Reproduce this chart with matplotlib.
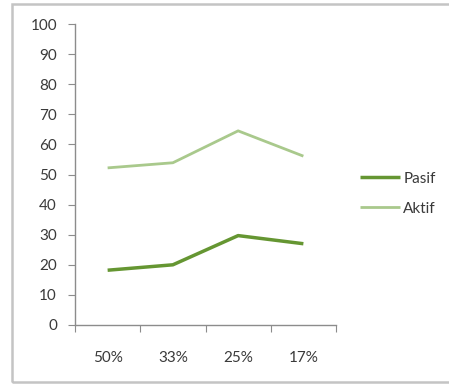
import matplotlib
matplotlib.use("Agg")
import matplotlib.pyplot as plt
from matplotlib.patches import Rectangle

categories = ["50%", "33%", "25%", "17%"]
pasif = [18.2, 20.0, 29.7, 27.0]
aktif = [52.2, 53.9, 64.5, 56.1]
y_ticks = [0, 10, 20, 30, 40, 50, 60, 70, 80, 90, 100]

plt.rcParams["font.family"] = ["Lato", "DejaVu Sans"]
text_color = "#3a3a3a"
axis_color = "#8c8c8c"

fig = plt.figure(figsize=(4.49, 3.86), dpi=100)
fig.patch.set_facecolor("white")

# outer chart frame
frame = Rectangle((12 / 449, 4 / 386), (460 - 12) / 449, (382 - 4) / 386,
                  transform=fig.transFigure, fill=False,
                  edgecolor="#c4c4c4", linewidth=1.8, clip_on=False)
fig.add_artist(frame)

ax = fig.add_axes([75 / 449, 1 - 325 / 386, (336 - 75) / 449, (325 - 24) / 386])

x = [i + 0.5 for i in range(len(categories))]
ax.plot(x, pasif, color="#659632", linewidth=2.5, label="Pasif",
        solid_capstyle="butt", solid_joinstyle="round")
ax.plot(x, aktif, color="#a9c98c", linewidth=2.0, label="Aktif",
        solid_capstyle="butt", solid_joinstyle="round")

ax.set_xlim(0, len(categories))
ax.set_ylim(0, 100)
ax.set_yticks(y_ticks)
ax.set_yticklabels([str(v) for v in y_ticks])

ax.set_xticks(range(len(categories) + 1))
ax.set_xticklabels([""] * (len(categories) + 1))
ax.set_xticks(x, minor=True)
ax.set_xticklabels(categories, minor=True)

for side in ("top", "right"):
    ax.spines[side].set_visible(False)
for side in ("left", "bottom"):
    ax.spines[side].set_color(axis_color)
    ax.spines[side].set_linewidth(1.0)

ax.tick_params(axis="y", which="major", direction="out", length=5,
               color=axis_color, labelcolor=text_color, labelsize=11, pad=8)
ax.tick_params(axis="x", which="major", direction="out", length=5,
               color=axis_color)
ax.tick_params(axis="x", which="minor", length=0, labelcolor=text_color,
               labelsize=11, pad=19)

leg = ax.legend(loc="upper left", bbox_to_anchor=(1.07, 0.53), frameon=False,
                handlelength=2.6, handletextpad=0.2, labelspacing=1.05,
                fontsize=11, borderaxespad=0)
for t in leg.get_texts():
    t.set_color(text_color)

fig.savefig("out.png", dpi=100, facecolor="white")
